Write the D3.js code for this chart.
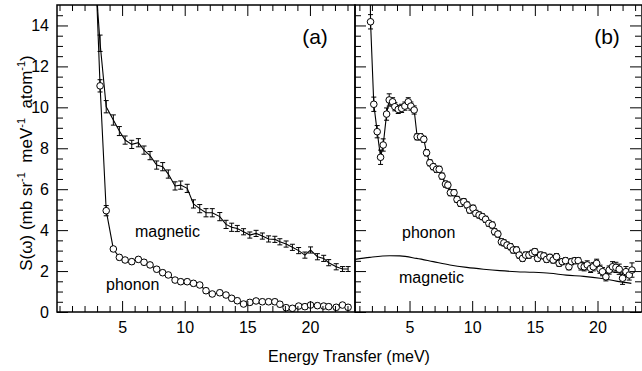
<!DOCTYPE html>
<html><head><meta charset="utf-8">
<script src="https://cdn.jsdelivr.net/npm/d3@7"></script>
<style>body{margin:0;background:#fff}svg{display:block}text{font-family:"Liberation Sans",Arial,Helvetica,sans-serif;fill:#000;white-space:pre}</style>
</head><body>
<script>
// ---------- DATA ----------
// Panel (a)
const aE      = [2.75,3.24,3.73,4.3,4.78,5.24,5.77,6.3,6.75,7.23,7.76,8.24,8.69,9.23,9.68,10.2,10.7,11.2,11.7,12.2,12.8,13.3,13.75,14.2,14.7,15.2,15.7,16.2,16.7,17.2,17.6,18.1,18.6,19.1,19.6,20.05,20.6,21.1,21.5,22.1,22.6,23.05];
const aMag    = [17.3,13.13,10.03,9.38,8.84,8.40,8.19,8.27,7.91,7.64,7.18,7.10,6.74,6.16,6.20,6.04,5.28,5.05,4.85,4.85,4.66,4.28,4.14,4.08,3.92,3.76,3.84,3.71,3.57,3.55,3.43,3.32,3.16,3.00,2.78,3.03,2.70,2.62,2.41,2.21,2.10,2.10];
const aMagErr = [0.4,0.4,0.3,0.25,0.22,0.2,0.2,0.2,0.2,0.2,0.2,0.2,0.2,0.2,0.2,0.2,0.2,0.2,0.2,0.2,0.2,0.2,0.2,0.15,0.15,0.15,0.15,0.15,0.15,0.15,0.15,0.15,0.15,0.15,0.15,0.15,0.15,0.15,0.15,0.15,0.12,0.12];
const aPho    = [18.9,11.05,4.95,3.08,2.67,2.54,2.46,2.57,2.43,2.30,2.09,1.92,1.81,1.56,1.48,1.48,1.40,1.32,1.04,0.88,0.94,0.83,0.67,0.55,0.39,0.47,0.54,0.50,0.50,0.50,0.38,0.21,0.18,0.29,0.26,0.34,0.31,0.29,0.26,0.23,0.34,0.23];
const aPhoErr = [0.4,0.3,0.25,0.12,0.12,0.12,0.12,0.12,0.12,0.12,0.12,0.12,0.12,0.12,0.12,0.12,0.12,0.12,0.12,0.12,0.12,0.12,0.12,0.12,0.12,0.12,0.12,0.12,0.12,0.12,0.12,0.12,0.12,0.12,0.12,0.12,0.12,0.12,0.12,0.12,0.12,0.12];
// Panel (b)
const bE      = [1.84,1.89,2.15,2.42,2.69,2.9,3.17,3.38,3.65,3.83,4.1,4.37,4.63,4.9,5.11,5.37,5.61,5.88,6.14,6.36,6.62,6.89,7.16,7.37,7.59,7.87,8.06,8.26,8.55,8.79,9.06,9.33,9.59,9.8,10.07,10.29,10.55,10.8,11.07,11.33,11.6,11.79,12.05,12.33,12.53,12.78,13.05,13.27,13.54,13.75,14.02,14.26,14.53,14.79,15.0,15.22,15.46,15.72,15.94,16.2,16.46,16.73,16.94,17.18,17.45,17.72,17.93,18.2,18.46,18.68,18.94,19.18,19.45,19.66,19.93,20.2,20.4,20.67,20.93,21.2,21.47,21.73,22.0,22.27,22.53,22.75];
const bPho    = [17.0,14.18,10.15,8.81,7.56,8.16,9.67,10.36,10.27,10.03,9.90,9.95,10.06,10.27,10.06,9.87,8.56,8.56,8.44,7.78,7.29,7.10,6.97,6.97,6.64,6.25,6.20,5.83,5.83,5.50,5.31,5.39,5.23,4.98,5.07,4.82,4.74,4.66,4.53,4.33,4.25,3.92,3.81,3.43,3.38,3.27,3.19,3.03,3.03,2.78,2.62,2.78,2.78,2.87,2.95,2.62,2.78,2.74,2.57,2.67,2.54,2.70,2.38,2.46,2.51,2.21,2.46,2.51,2.51,2.25,2.21,2.30,2.13,2.21,2.38,2.09,1.97,1.72,2.05,2.21,2.18,2.09,1.65,1.97,1.81,2.05];
const bPhoErr = [0.4,0.35,0.35,0.3,0.35,0.3,0.3,0.3,0.2,0.2,0.2,0.2,0.2,0.2,0.2,0.2,0.15,0.15,0.15,0.15,0.15,0.15,0.15,0.15,0.15,0.15,0.15,0.15,0.15,0.15,0.15,0.15,0.15,0.15,0.15,0.15,0.15,0.15,0.15,0.15,0.15,0.15,0.15,0.15,0.15,0.15,0.15,0.15,0.15,0.15,0.15,0.15,0.15,0.15,0.15,0.15,0.15,0.15,0.15,0.15,0.15,0.15,0.15,0.15,0.15,0.15,0.15,0.15,0.15,0.2,0.2,0.2,0.2,0.2,0.2,0.2,0.2,0.2,0.2,0.25,0.25,0.25,0.3,0.25,0.25,0.35];
const bMagE   = [0.64,1.84,3.43,4.23,5.56,6.89,8.22,9.56,10.9,12.2,13.55,14.88,16.2,17.5,18.9,20.2,21.5,22.7];
const bMag    = [2.57,2.67,2.75,2.74,2.62,2.46,2.30,2.18,2.09,2.02,1.97,1.94,1.89,1.80,1.74,1.65,1.51,1.40];
// Ticks / labels
const xMajor = [5,10,15,20];
const yMajor = [0,2,4,6,8,10,12,14];
const panelLabels = ["(a)","(b)"];
const curveLabels = ["magnetic","phonon"];
const xTitle = "Energy Transfer (meV)";

// ---------- LAYOUT ----------
const W = 642, H = 371;
const svg = d3.select("body").append("svg").attr("width",W).attr("height",H);
svg.append("rect").attr("width",W).attr("height",H).attr("fill","#fff");

const y = d3.scaleLinear().domain([0,15]).range([312,5]);
const xA = d3.scaleLinear().domain([-0.2,23.6]).range([57,355]);
const xB = d3.scaleLinear().domain([0.65,23.55]).range([355,642]);
const range = (a,b,s)=>{const r=[];for(let v=a;v<=b+1e-9;v+=s)r.push(+v.toFixed(3));return r;};

function frameAxes(g, x, opts){
  const [x0,x1]=x.range(), [y0,y1]=[y.range()[1],y.range()[0]];
  const xMin = range(Math.ceil(x.domain()[0]), Math.floor(x.domain()[1]),1).filter(v=>!xMajor.includes(v));
  const yMin = range(0.5,14.5,0.5).filter(v=>!yMajor.includes(v));
  const styl = s=>{s.select(".domain").remove(); s.selectAll(".tick line").attr("stroke","#000").attr("stroke-width",1);
                   s.selectAll("text").style("font-size","16px").attr("font-family","Liberation Sans, Arial, sans-serif");};
  g.append("g").attr("transform",`translate(0,${y1})`).call(d3.axisBottom(x).tickValues(xMajor).tickSize(-11).tickPadding(10).tickFormat(d3.format("d"))).call(styl);
  g.append("g").attr("transform",`translate(0,${y1})`).call(d3.axisBottom(x).tickValues(xMin).tickSize(-6).tickFormat("")).call(styl);
  g.append("g").attr("transform",`translate(0,${y0})`).call(d3.axisTop(x).tickValues(xMajor).tickSize(-11).tickFormat("")).call(styl);
  g.append("g").attr("transform",`translate(0,${y0})`).call(d3.axisTop(x).tickValues(xMin).tickSize(-6).tickFormat("")).call(styl);
  if(opts.left){
    const ax = d3.axisLeft(y).tickValues(yMajor).tickSize(-11).tickPadding(8);
    if(!opts.leftLabels) ax.tickFormat("");
    g.append("g").attr("transform",`translate(${x0},0)`).call(ax).call(styl);
    g.append("g").attr("transform",`translate(${x0},0)`).call(d3.axisLeft(y).tickValues(yMin).tickSize(-6).tickFormat("")).call(styl);
  }
  if(opts.right){
    g.append("g").attr("transform",`translate(${x1-1},0)`).call(d3.axisRight(y).tickValues(yMajor).tickSize(-11).tickFormat("")).call(styl);
    g.append("g").attr("transform",`translate(${x1-1},0)`).call(d3.axisRight(y).tickValues(yMin).tickSize(-6).tickFormat("")).call(styl);
  }
  g.append("rect").attr("x",x0).attr("y",y0).attr("width",x1-x0).attr("height",y1-y0)
    .attr("fill","none").attr("stroke","#000").attr("stroke-width",1.5);
}

function clip(id,x){
  const [x0,x1]=x.range();
  svg.append("clipPath").attr("id",id).append("rect").attr("x",x0).attr("y",y.range()[1]).attr("width",x1-x0).attr("height",y.range()[0]-y.range()[1]);
  return svg.append("g").attr("clip-path",`url(#${id})`);
}

function errorBars(g,x,E,S,err){
  const d = E.map((e,i)=>({e,s:S[i],r:err[i]}));
  const eb = g.append("g").attr("stroke","#000").attr("stroke-width",1);
  eb.selectAll(".v").data(d).join("line").attr("x1",d=>x(d.e)).attr("x2",d=>x(d.e)).attr("y1",d=>y(d.s-d.r)).attr("y2",d=>y(d.s+d.r));
  eb.selectAll(".t").data(d).join("line").attr("x1",d=>x(d.e)-2.5).attr("x2",d=>x(d.e)+2.5).attr("y1",d=>y(d.s+d.r)).attr("y2",d=>y(d.s+d.r));
  eb.selectAll(".b").data(d).join("line").attr("x1",d=>x(d.e)-2.5).attr("x2",d=>x(d.e)+2.5).attr("y1",d=>y(d.s-d.r)).attr("y2",d=>y(d.s-d.r));
}
function polyline(g,x,E,S,curve){
  const line = d3.line().x(d=>x(d[0])).y(d=>y(d[1])).curve(curve||d3.curveLinear);
  g.append("path").attr("d",line(E.map((e,i)=>[e,S[i]]))).attr("fill","none").attr("stroke","#000").attr("stroke-width",1.1);
}
function circles(g,x,E,S){
  g.append("g").selectAll("circle").data(E.map((e,i)=>[e,S[i]])).join("circle")
    .attr("cx",d=>x(d[0])).attr("cy",d=>y(d[1])).attr("r",3.3)
    .attr("fill","#fff").attr("stroke","#000").attr("stroke-width",1);
}

// ---------- PANEL (a) ----------
const gA = clip("clipA",xA);
polyline(gA,xA,aE,aMag);
errorBars(gA,xA,aE,aMag,aMagErr);
polyline(gA,xA,aE,aPho);
errorBars(gA,xA,aE,aPho,aPhoErr);
circles(gA,xA,aE,aPho);

// ---------- PANEL (b) ----------
const gB = clip("clipB",xB);
polyline(gB,xB,bMagE,bMag,d3.curveMonotoneX);
polyline(gB,xB,bE,bPho);
errorBars(gB,xB,bE,bPho,bPhoErr);
circles(gB,xB,bE.slice(1),bPho.slice(1));

frameAxes(svg.append("g"),xA,{left:true,leftLabels:true,right:false});
frameAxes(svg.append("g"),xB,{left:true,leftLabels:false,right:true});

// ---------- TEXT ----------
svg.append("text").attr("x",315).attr("y",44).attr("text-anchor","middle").style("font-size","21px").text(panelLabels[0]);
svg.append("text").attr("x",607).attr("y",44).attr("text-anchor","middle").style("font-size","21px").text(panelLabels[1]);
svg.append("text").attr("x",135).attr("y",237).style("font-size","16px").text(curveLabels[0]);
svg.append("text").attr("x",106).attr("y",290).style("font-size","16px").text(curveLabels[1]);
svg.append("text").attr("x",402).attr("y",238).style("font-size","16px").text(curveLabels[1]);
svg.append("text").attr("x",399).attr("y",283).style("font-size","16px").text(curveLabels[0]);
svg.append("text").attr("x",349).attr("y",362).attr("text-anchor","middle").style("font-size","16px").text(xTitle);

const yl = svg.append("text").attr("transform","translate(32,163) rotate(-90)").attr("text-anchor","middle").style("font-size","17px");
yl.append("tspan").text("S(ω) (mb sr");
yl.append("tspan").attr("dy",-7).style("font-size","11px").text("-1");
yl.append("tspan").attr("dy",7).text("  meV");
yl.append("tspan").attr("dy",-7).style("font-size","11px").text("-1");
yl.append("tspan").attr("dy",7).text("  atom");
yl.append("tspan").attr("dy",-7).style("font-size","11px").text("-1");
yl.append("tspan").attr("dy",7).text(")");
</script>
</body></html>
